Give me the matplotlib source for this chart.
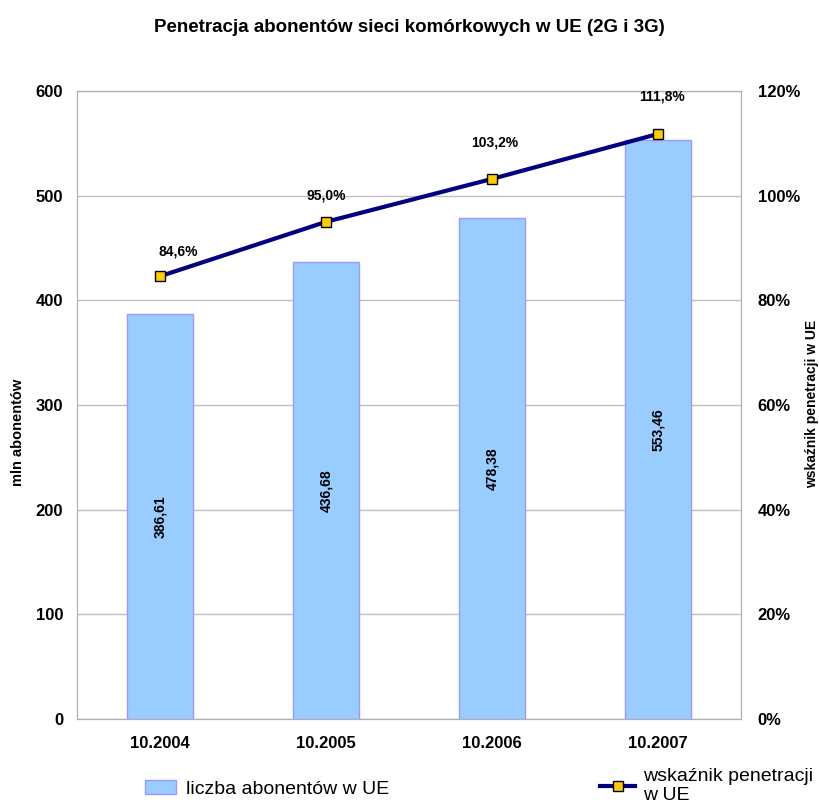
import matplotlib
matplotlib.use("Agg")
import matplotlib.pyplot as plt
from matplotlib.lines import Line2D
from matplotlib.patches import Patch

categories = ["10.2004", "10.2005", "10.2006", "10.2007"]
subscribers = [386.61, 436.68, 478.38, 553.46]
penetration = [84.6, 95.0, 103.2, 111.8]
left_ticks = [0, 100, 200, 300, 400, 500, 600]
right_ticks = [0, 20, 40, 60, 80, 100, 120]

# label offsets in pixels (style only)
label_offsets_px = [(18, 25), (0, 26), (3, 36), (4, 37)]

plt.rcParams['font.family'] = ['Liberation Sans', 'DejaVu Sans']

fig = plt.figure(figsize=(8.19, 8.07), dpi=100)
ax = fig.add_axes([77/819, 1-719/807, (741-77)/819, (719-91)/807])
ax2 = ax.twinx()

x = list(range(len(categories)))
ax.bar(x, subscribers, width=0.4, color='#99ccff', edgecolor='#9999ff', linewidth=1, zorder=2)
for xi, v in zip(x, subscribers):
    ax.text(xi, v/2, f"{v:.2f}".replace('.', ','), rotation=90, ha='center', va='center',
            fontsize=10, fontweight='bold', zorder=3)

ax.set_xlim(-0.5, len(categories)-0.5)
ax.set_ylim(0, 600)
ax.set_yticks(left_ticks)
ax.set_yticklabels([str(t) for t in left_ticks], fontsize=12, fontweight='bold')
ax.set_xticks(x)
ax.set_xticklabels(categories, fontsize=12, fontweight='bold')
ax.tick_params(axis='y', length=0, pad=10)
ax.tick_params(axis='x', length=0, pad=12)
ax.grid(axis='y', color='#c0c0c0', linewidth=1, zorder=0)
ax.set_axisbelow(True)
for s in ax.spines.values():
    s.set_color('#b0b0b0')
for s in ax2.spines.values():
    s.set_color('#b0b0b0')

ax2.plot(x, penetration, color='#000080', linewidth=3, marker='s', markersize=7,
         markerfacecolor='#ffcc00', markeredgecolor='#000000', markeredgewidth=1, zorder=5)
for xi, v, (dx, dy) in zip(x, penetration, label_offsets_px):
    ax2.annotate(f"{v:.1f}%".replace('.', ','), (xi, v), xytext=(dx*0.72, dy*0.72),
                 textcoords='offset points', ha='center', va='center', fontsize=10, fontweight='bold')
ax2.set_ylim(0, 120)
ax2.set_yticks(right_ticks)
ax2.set_yticklabels([f"{t}%" for t in right_ticks], fontsize=12, fontweight='bold')
ax2.tick_params(axis='y', length=0, pad=12)

fig.text(18/819, 1-432/807, "mln abonentów", rotation=90, ha='center', va='center',
         fontsize=10.5, fontweight='bold')
fig.text(812/819, 1-404/807, "wskaźnik penetracji w UE", rotation=90, ha='center', va='center',
         fontsize=10, fontweight='bold')
fig.text(0.5, 1-28/807, "Penetracja abonentów sieci komórkowych w UE (2G i 3G)", ha='center',
         va='center', fontsize=13.5, fontweight='bold')

h1 = Patch(facecolor='#99ccff', edgecolor='#9999ff')
fig.legend([h1], ["liczba abonentów w UE"], loc='center left', bbox_to_anchor=(145/819, 1-789/807),
           frameon=False, fontsize=14, handlelength=1.6, handleheight=0.7, handletextpad=0.5,
           borderpad=0, borderaxespad=0)
h2 = Line2D([], [], color='#000080', linewidth=3, marker='s', markersize=7,
            markerfacecolor='#ffcc00', markeredgecolor='#000000')
fig.legend([h2], ["wskaźnik penetracji\nw UE"], loc='center left', bbox_to_anchor=(600/819, 1-786/807),
           frameon=False, fontsize=14, handlelength=1.8, handletextpad=0.4,
           borderpad=0, borderaxespad=0, labelspacing=0)
for t in fig.legends[1].get_texts():
    t.set_linespacing(1.1)

fig.savefig("out.png", dpi=100)
